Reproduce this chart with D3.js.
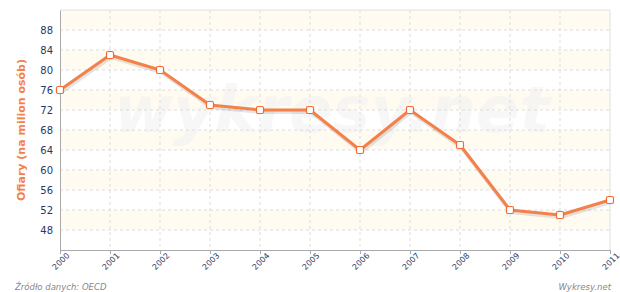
<!DOCTYPE html>
<html>
<head>
<meta charset="utf-8">
<script src="https://cdn.jsdelivr.net/npm/d3@7"></script>
<style>
  body { margin: 0; background: #fff; }
  text { font-family: "DejaVu Sans", Verdana, sans-serif; }
</style>
</head>
<body>
<div id="chart"></div>
<script>
// data
var years = [2000, 2001, 2002, 2003, 2004, 2005, 2006, 2007, 2008, 2009, 2010, 2011];
var victims = [76, 83, 80, 73, 72, 72, 64, 72, 65, 52, 51, 54];
var yTicks = [48, 52, 56, 60, 64, 68, 72, 76, 80, 84, 88];

var margin = { top: 10, right: 10, bottom: 42, left: 60 },
    width = 620 - margin.left - margin.right,
    height = 292 - margin.top - margin.bottom;

var svg = d3.select("#chart")
    .append("svg")
    .attr("width", 620)
    .attr("height", 292);

var g = svg.append("g")
    .attr("transform", "translate(" + margin.left + "," + margin.top + ")");

var x = d3.scaleLinear().domain([2000, 2011]).range([0, width]);
var y = d3.scaleLinear().domain([44, 92]).range([height, 0]);

// alternating bands
var bands = d3.range(48, 92, 8);
g.selectAll("rect.band")
    .data(bands)
    .enter()
    .append("rect")
    .attr("x", 0)
    .attr("width", width)
    .attr("y", function (d) { return y(d + 4); })
    .attr("height", function (d) { return y(d) - y(d + 4); })
    .attr("fill", "#fffbf1");
g.append("rect")
    .attr("x", 0).attr("width", width)
    .attr("y", y(92)).attr("height", y(88) - y(92))
    .attr("fill", "#fffbf1");

// watermark
g.append("text")
    .attr("x", 272)
    .attr("y", 122)
    .attr("text-anchor", "middle")
    .attr("font-size", 64)
    .attr("font-weight", "bold")
    .attr("font-style", "italic")
    .attr("fill", "#f2f2f2")
    .attr("fill-opacity", 0.6)
    .text("wykresy.net");

// grid
g.selectAll("line.hgrid")
    .data(yTicks)
    .enter()
    .append("line")
    .attr("x1", 0).attr("x2", width)
    .attr("y1", function (d) { return y(d); })
    .attr("y2", function (d) { return y(d); })
    .attr("stroke", "#dddddd")
    .attr("stroke-dasharray", "3,3");

g.selectAll("line.vgrid")
    .data(years.slice(1, -1))
    .enter()
    .append("line")
    .attr("y1", 0).attr("y2", height)
    .attr("x1", function (d) { return x(d); })
    .attr("x2", function (d) { return x(d); })
    .attr("stroke", "#dddddd")
    .attr("stroke-dasharray", "3,3");

// frame
g.append("line").attr("x1", 0).attr("x2", width).attr("y1", 0).attr("y2", 0)
    .attr("stroke", "#e0e0e0");
g.append("line").attr("x1", width).attr("x2", width).attr("y1", 0).attr("y2", height)
    .attr("stroke", "#e0e0e0");

// axes
var yAxis = g.append("g")
    .call(d3.axisLeft(y).tickValues(yTicks).tickSize(0).tickPadding(7));
yAxis.select(".domain").attr("stroke", "#aaaaaa");
yAxis.selectAll("text").attr("fill", "#1f3a66").attr("font-size", 10);

var xAxis = g.append("g")
    .attr("transform", "translate(0," + height + ")")
    .call(d3.axisBottom(x).tickValues(years).tickFormat(d3.format("d")).tickSize(4));
xAxis.select(".domain").attr("stroke", "#aaaaaa");
xAxis.selectAll(".tick line").attr("stroke", "#aaaaaa");
xAxis.selectAll("text")
    .attr("fill", "#1f3a66")
    .attr("font-size", 8)
    .attr("text-anchor", "end")
    .attr("dx", "0.3em")
    .attr("dy", "0.5em")
    .attr("transform", "rotate(-45)");

// line with shadow
var line = d3.line()
    .x(function (d, i) { return x(years[i]); })
    .y(function (d) { return y(d); });

g.append("path")
    .datum(victims)
    .attr("d", line)
    .attr("transform", "translate(1,2)")
    .attr("fill", "none")
    .attr("stroke", "#000")
    .attr("stroke-opacity", 0.1)
    .attr("stroke-width", 4);

g.append("path")
    .datum(victims)
    .attr("d", line)
    .attr("fill", "none")
    .attr("stroke", "#f4804a")
    .attr("stroke-width", 3)
    .attr("stroke-linejoin", "round");

g.selectAll("rect.pt")
    .data(victims)
    .enter()
    .append("rect")
    .attr("x", function (d, i) { return x(years[i]) - 3.5; })
    .attr("y", function (d) { return y(d) - 3.5; })
    .attr("width", 7)
    .attr("height", 7)
    .attr("rx", 1.5)
    .attr("fill", "#fff")
    .attr("stroke", "#f26a2e")
    .attr("stroke-width", 1.2);

// y axis title
svg.append("text")
    .attr("transform", "translate(25," + (margin.top + height / 2) + ") rotate(-90)")
    .attr("text-anchor", "middle")
    .attr("font-size", 11)
    .attr("font-weight", "bold")
    .attr("fill", "#f4804a")
    .text("Ofiary (na milion osób)");

// footer
svg.append("text")
    .attr("x", 15).attr("y", 290)
    .attr("font-size", 8.5)
    .attr("font-style", "italic")
    .attr("fill", "#888")
    .text("Źródło danych: OECD");

svg.append("text")
    .attr("x", 611).attr("y", 290)
    .attr("text-anchor", "end")
    .attr("font-size", 8.5)
    .attr("font-style", "italic")
    .attr("fill", "#888")
    .text("Wykresy.net");
</script>
</body>
</html>
